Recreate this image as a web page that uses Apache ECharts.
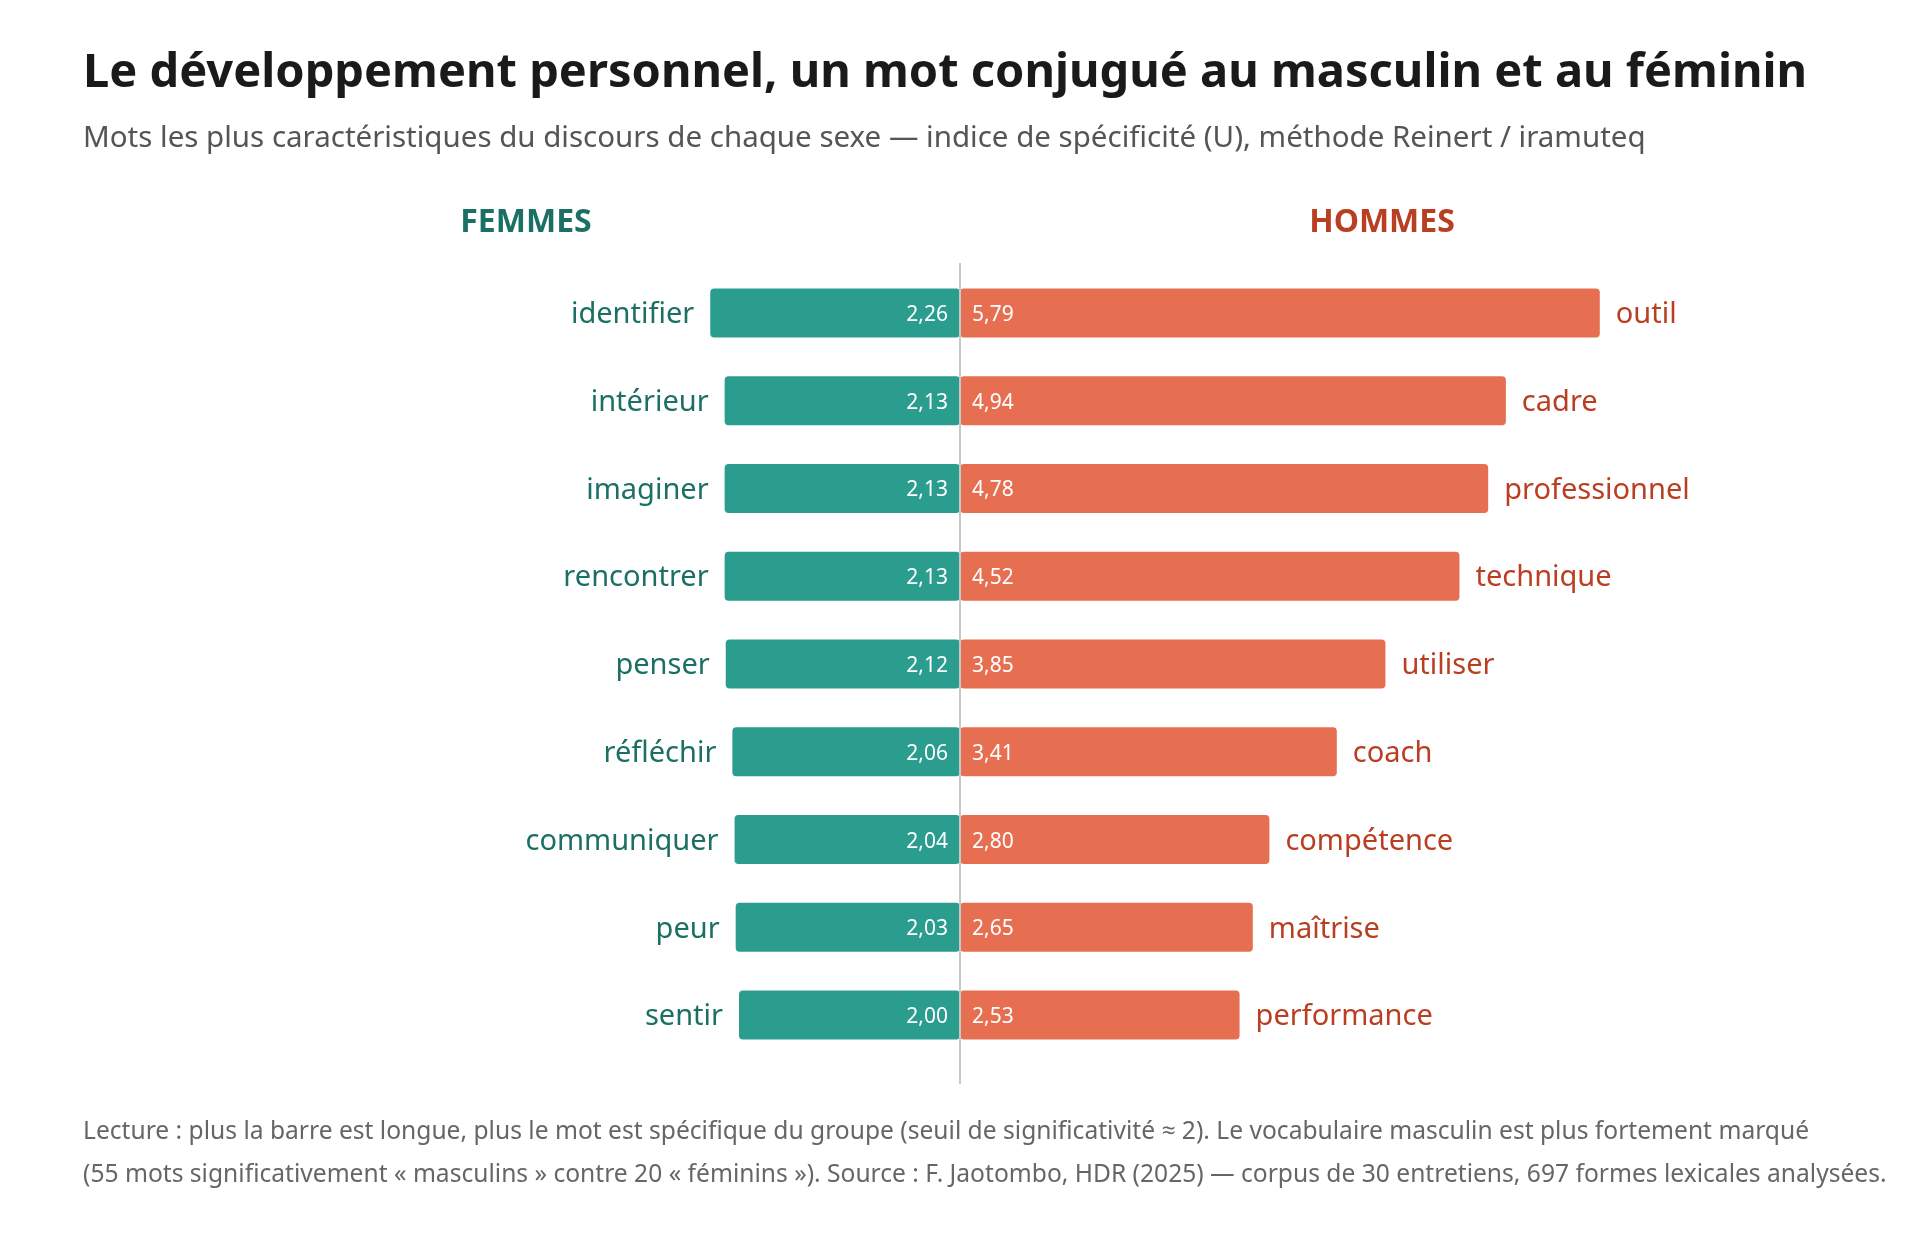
<!DOCTYPE html>
<html>
<head>
<meta charset="utf-8">
<script src="https://cdn.jsdelivr.net/npm/echarts@6/dist/echarts.min.js"></script>
<style>
  html, body { margin: 0; padding: 0; background: #fff; }
  #chart { width: 1920px; height: 1252px; }
</style>
</head>
<body>
<div id="chart"></div>
<script>
// mots spécifiques (indice U)
const femmesMots = ['identifier', 'intérieur', 'imaginer', 'rencontrer', 'penser', 'réfléchir', 'communiquer', 'peur', 'sentir']
const femmesValeurs = [2.26, 2.13, 2.13, 2.13, 2.12, 2.06, 2.04, 2.03, 2.00]
const hommesMots = ['outil', 'cadre', 'professionnel', 'technique', 'utiliser', 'coach', 'compétence', 'maîtrise', 'performance']
const hommesValeurs = [5.79, 4.94, 4.78, 4.52, 3.85, 3.41, 2.80, 2.65, 2.53]

const FONT = '"Noto Sans", "Open Sans", sans-serif'
const TEAL = '#2a9d8f'
const TEAL_TXT = '#1b6f64'
const ORANGE = '#e76f51'
const ORANGE_TXT = '#b93e22'

const fmt = v => v.toFixed(2).replace('.', ',')

const chart = echarts.init(document.getElementById('chart'))

const grids = [
  { left: 518, right: 960, top: 269, height: 790 },
  { left: 960, right: 186.5, top: 269, height: 790 }
]

const option = {
  backgroundColor: '#fff',
  animation: false,
  title: [
    {
      text: 'Le développement personnel, un mot conjugué au masculin et au féminin',
      left: 78, top: 45,
      textStyle: { fontFamily: FONT, fontSize: 47, fontWeight: 'bold', color: '#1a1a1a' }
    },
    {
      text: 'Mots les plus caractéristiques du discours de chaque sexe — indice de spécificité (U), méthode Reinert / iramuteq',
      left: 78, top: 119,
      textStyle: { fontFamily: FONT, fontSize: 29.5, fontWeight: 'normal', color: '#555' }
    },
    {
      text: 'FEMMES',
      left: 521, top: 202, textAlign: 'center',
      textStyle: { fontFamily: FONT, fontSize: 32, fontWeight: 'bold', color: TEAL_TXT }
    },
    {
      text: 'HOMMES',
      left: 1377, top: 202, textAlign: 'center',
      textStyle: { fontFamily: FONT, fontSize: 32, fontWeight: 'bold', color: ORANGE_TXT }
    },
    {
      text: 'Lecture : plus la barre est longue, plus le mot est spécifique du groupe (seuil de significativité ≈ 2). Le vocabulaire masculin est plus fortement marqué\n(55 mots significativement « masculins » contre 20 « féminins »). Source : F. Jaotombo, HDR (2025) — corpus de 30 entretiens, 697 formes lexicales analysées.',
      left: 78, top: 1105,
      textStyle: { fontFamily: FONT, fontSize: 24.6, fontWeight: 'normal', color: '#666', lineHeight: 43 }
    }
  ],
  grid: grids,
  xAxis: [
    { gridIndex: 0, type: 'value', min: 0, max: 4, inverse: true, show: false },
    { gridIndex: 1, type: 'value', min: 0, max: 7, show: false }
  ],
  yAxis: [
    { gridIndex: 0, type: 'category', data: femmesMots, inverse: true, show: false },
    { gridIndex: 1, type: 'category', data: hommesMots, inverse: true, show: false }
  ],
  graphic: [
    {
      type: 'line',
      shape: { x1: 960, y1: 263, x2: 960, y2: 1084 },
      style: { stroke: '#c8c8c8', lineWidth: 2 },
      z: 10
    }
  ],
  series: [
    {
      type: 'bar', xAxisIndex: 0, yAxisIndex: 0,
      data: femmesValeurs, barWidth: 49,
      itemStyle: { color: TEAL, borderRadius: 4 },
      label: {
        show: true, position: 'insideRight', distance: 12, offset: [0, 2],
        formatter: p => fmt(p.value),
        fontFamily: FONT, fontSize: 21, color: '#fff'
      },
      silent: true
    },
    {
      type: 'bar', xAxisIndex: 0, yAxisIndex: 0,
      data: femmesValeurs, barWidth: 49, barGap: '-100%',
      itemStyle: { color: 'rgba(0,0,0,0)' },
      label: {
        show: true, position: 'left', distance: 16, offset: [0, 2],
        formatter: p => p.name,
        fontFamily: FONT, fontSize: 29, color: TEAL_TXT
      },
      silent: true
    },
    {
      type: 'bar', xAxisIndex: 1, yAxisIndex: 1,
      data: hommesValeurs, barWidth: 49,
      itemStyle: { color: ORANGE, borderRadius: 4 },
      label: {
        show: true, position: 'insideLeft', distance: 12, offset: [0, 2],
        formatter: p => fmt(p.value),
        fontFamily: FONT, fontSize: 21, color: '#fff'
      },
      silent: true
    },
    {
      type: 'bar', xAxisIndex: 1, yAxisIndex: 1,
      data: hommesValeurs, barWidth: 49, barGap: '-100%',
      itemStyle: { color: 'rgba(0,0,0,0)' },
      label: {
        show: true, position: 'right', distance: 16, offset: [0, 2],
        formatter: p => p.name,
        fontFamily: FONT, fontSize: 29, color: ORANGE_TXT
      },
      silent: true
    }
  ]
}

chart.setOption(option)
window.addEventListener('resize', () => chart.resize())
</script>
</body>
</html>
